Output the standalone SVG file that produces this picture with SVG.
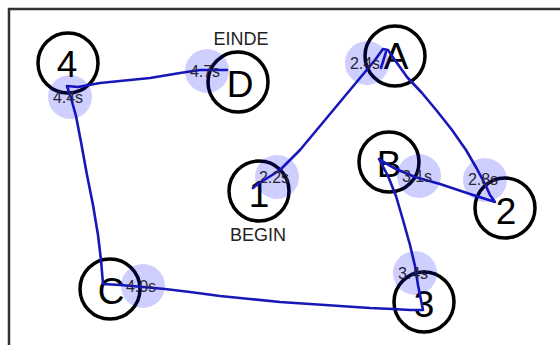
<svg xmlns="http://www.w3.org/2000/svg" width="560" height="345" viewBox="0 0 560 345">
<style>
.node circle{fill:none;stroke:#000;stroke-width:3.5}
.node text{font-family:"Liberation Sans",Arial,sans-serif;font-size:37px;fill:#000;text-anchor:middle}
.cap{font-family:"Liberation Sans",Arial,sans-serif;font-size:18px;fill:#222;text-anchor:middle}
.trail{fill:none;stroke:#1818b8;stroke-width:2.6;stroke-linejoin:round;stroke-linecap:round}
.tm circle{fill:#0000ff;fill-opacity:0.19}
.tm text{font-family:"Liberation Sans",Arial,sans-serif;font-size:16px;fill:#262636;text-anchor:middle}
</style>
<rect width="560" height="345" fill="#fff"/>
<path d="M9,345 V9 H560" fill="none" stroke="#333" stroke-width="2.5"/>
<g id="n4" class="node"><circle cx="68" cy="63" r="30"/><text x="67" y="77">4</text></g>
<g id="nD" class="node"><circle cx="238" cy="82" r="30"/><text x="240" y="97">D</text></g>
<g id="nA" class="node"><circle cx="395" cy="56" r="30"/><text x="396" y="69">A</text></g>
<g id="nB" class="node"><circle cx="389" cy="162" r="30"/><text x="389" y="177">B</text></g>
<g id="n2" class="node"><circle cx="505" cy="208" r="30"/><text x="506" y="224">2</text></g>
<g id="n3" class="node"><circle cx="424" cy="302" r="30"/><text x="424" y="317">3</text></g>
<g id="nC" class="node"><circle cx="110" cy="289" r="30"/><text x="111" y="304">C</text></g>
<g id="n1" class="node"><circle cx="259" cy="191" r="30"/><text x="259" y="207">1</text></g>
<g id="labels"><text class="cap" x="241" y="45">EINDE</text><text class="cap" x="258" y="241">BEGIN</text></g>
<g id="connectors">
<path class="trail" d="M253,188 L258,184 L280,170 L300,150 L320,126 L340,102 L360,78 L375,60 L383,49 L388,50 L392,56 L407,77 L422,93 L437,111 L452,130 L466,150 L477,169 L485,184 L490,195 L495,202 L470,194 L440,184 L415,177 L396,169 L380,160 L379,159 L388,176 L396,196 L403,220 L410,245 L415,266 L418,285 L421,300 L423,310 L410,310 L393,309 L370,308 L340,306 L310,304 L280,302 L250,299 L220,296 L190,292 L165,289 L143,287 L120,285 L103,284 L101,260 L98,235 L93,205 L87,175 L81,142 L76,116 L71,98 L67,86 L78,87 L100,83 L150,78 L180,73 L200,70 L227,70"/>
<path class="trail" d="M381,68 L386,52"/>
</g>
<g id="times" class="tm">
<g><circle cx="70" cy="97" r="22"/><text x="68" y="103">4.4s</text></g>
<g><circle cx="207" cy="71" r="22"/><text x="205" y="77">4.7s</text></g>
<g><circle cx="367" cy="63" r="22"/><text x="365" y="69">2.4s</text></g>
<g><circle cx="277" cy="177" r="22"/><text x="274" y="183">2.2s</text></g>
<g><circle cx="419" cy="176" r="22"/><text x="417" y="182">3.1s</text></g>
<g><circle cx="485" cy="180" r="22"/><text x="483" y="185">2.8s</text></g>
<g><circle cx="415" cy="273" r="22"/><text x="413" y="279">3.4s</text></g>
<g><circle cx="143" cy="286" r="22"/><text x="141" y="292">4.0s</text></g>
</g>
</svg>
